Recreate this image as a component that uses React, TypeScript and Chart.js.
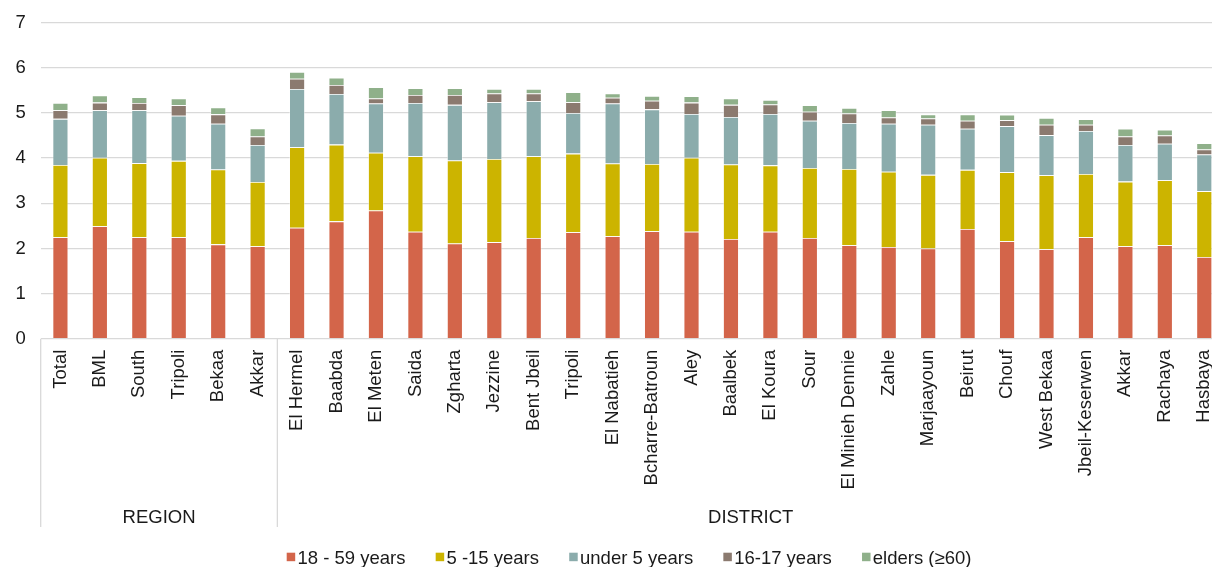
import React, { useEffect, useRef } from "react";
import { Chart, registerables } from "chart.js";

Chart.register(...registerables);

const categories = [
  "Total", "BML", "South", "Tripoli", "Bekaa", "Akkar",
  "El Hermel", "Baabda", "El Meten", "Saida", "Zgharta", "Jezzine",
  "Bent Jbeil", "Tripoli", "El Nabatieh", "Bcharre-Batroun", "Aley", "Baalbek",
  "El Koura", "Sour", "El Minieh Dennie", "Zahle", "Marjaayoun", "Beirut",
  "Chouf", "West Bekaa", "Jbeil-Keserwen", "Akkar", "Rachaya", "Hasbaya",
];

const groupLabels = ["REGION", "DISTRICT"];
const groupSizes = [6, 24];

const seriesNames = ["18 - 59 years", "5 -15 years", "under 5 years", "16-17 years", "elders (≥60)"];

const adults = [
  2.25, 2.49, 2.25, 2.25, 2.09, 2.05,
  2.46, 2.60, 2.84, 2.37, 2.11, 2.14, 2.23, 2.36, 2.27, 2.38, 2.37, 2.21,
  2.37, 2.23, 2.07, 2.03, 2.00, 2.43, 2.16, 1.98, 2.25, 2.05, 2.07, 1.81,
];
const children = [
  1.60, 1.52, 1.64, 1.69, 1.66, 1.42,
  1.78, 1.70, 1.28, 1.67, 1.84, 1.84, 1.81, 1.74, 1.61, 1.49, 1.64, 1.65,
  1.47, 1.55, 1.69, 1.67, 1.63, 1.31, 1.53, 1.64, 1.40, 1.43, 1.44, 1.46,
];
const under5 = [
  1.02, 1.05, 1.17, 1.00, 1.01, 0.82,
  1.29, 1.12, 1.09, 1.18, 1.23, 1.26, 1.22, 0.90, 1.33, 1.21, 0.97, 1.05,
  1.14, 1.05, 1.02, 1.06, 1.11, 0.91, 1.02, 0.89, 0.95, 0.81, 0.81, 0.81,
];
const teens = [
  0.19, 0.17, 0.16, 0.23, 0.21, 0.19,
  0.23, 0.20, 0.11, 0.18, 0.22, 0.19, 0.17, 0.24, 0.13, 0.19, 0.25, 0.27,
  0.21, 0.20, 0.21, 0.14, 0.14, 0.18, 0.13, 0.23, 0.14, 0.19, 0.18, 0.11,
];
const elders = [
  0.16, 0.16, 0.13, 0.15, 0.15, 0.18,
  0.15, 0.16, 0.25, 0.15, 0.15, 0.10, 0.10, 0.22, 0.09, 0.11, 0.14, 0.14,
  0.10, 0.14, 0.12, 0.16, 0.09, 0.14, 0.12, 0.15, 0.12, 0.17, 0.13, 0.14,
];

const seriesValues = [adults, children, under5, teens, elders];
const seriesColors = ["#D3654A", "#CCB400", "#8BACAC", "#8B7A6F", "#8FB08A"];

const FONT = '"Liberation Sans", Arial, Helvetica, sans-serif';
const TEXT = "#1a1a1a";
const GRID = "#d9d9d9";

const groupsAndLegend = {
  id: "groupsAndLegend",
  afterDraw(chart: any) {
    const { ctx, chartArea } = chart;
    const x = chart.scales.x;
    const half = (x.getPixelForTick(1) - x.getPixelForTick(0)) / 2;
    ctx.save();
    ctx.strokeStyle = GRID;
    ctx.lineWidth = 1.3;
    const bottomY = 527;
    let idx = 0;
    const edges: number[] = [x.getPixelForTick(0) - half];
    groupSizes.forEach((n) => {
      idx += n;
      edges.push(x.getPixelForTick(idx - 1) + half);
    });
    edges.forEach((ex) => {
      ctx.beginPath();
      ctx.moveTo(ex, chartArea.bottom);
      ctx.lineTo(ex, bottomY);
      ctx.stroke();
    });
    ctx.font = `18.5px ${FONT}`;
    ctx.fillStyle = TEXT;
    ctx.textAlign = "center";
    ctx.textBaseline = "alphabetic";
    groupLabels.forEach((g, i) => {
      ctx.fillText(g, (edges[i] + edges[i + 1]) / 2, 522.7);
    });
    ctx.textAlign = "left";
    let lx = 286.7;
    chart.data.datasets.forEach((ds: any) => {
      ctx.fillStyle = ds.backgroundColor;
      ctx.fillRect(lx, 552.7, 8.5, 8.5);
      ctx.fillStyle = TEXT;
      ctx.fillText(ds.label, lx + 10.8, 564.3);
      lx += 10.8 + ctx.measureText(ds.label).width + 30.2;
    });
    ctx.restore();
  },
};

export default function App() {
  const ref = useRef<HTMLCanvasElement | null>(null);
  useEffect(() => {
    if (!ref.current) return;
    const chart = new Chart(ref.current, {
      type: "bar",
      data: {
        labels: categories,
        datasets: seriesNames.map((name, i) => ({
          label: name,
          data: seriesValues[i],
          backgroundColor: seriesColors[i],
          borderColor: "rgba(255,255,255,0.55)",
          borderWidth: 0.8,
          borderSkipped: "start",
          barPercentage: 0.4,
          categoryPercentage: 1,
        })),
      },
      options: {
        responsive: false,
        animation: false,
        layout: { padding: { top: 22.7, right: 0, bottom: 0, left: 0 } },
        plugins: {
          legend: { display: false },
          tooltip: { enabled: false },
        },
        scales: {
          x: {
            stacked: true,
            grid: { display: false, drawTicks: false },
            border: { display: false },
            ticks: {
              maxRotation: 90,
              minRotation: 90,
              autoSkip: false,
              padding: 11,
              color: TEXT,
              font: { family: FONT, size: 18.5 },
            },
            afterFit: (axis: any) => {
              axis.height = 567 - 338.7;
              axis.paddingLeft = 0;
              axis.paddingRight = 0;
            },
          },
          y: {
            stacked: true,
            min: 0,
            max: 7,
            ticks: {
              stepSize: 1,
              padding: 15,
              color: TEXT,
              font: { family: FONT, size: 18.5 },
            },
            grid: { color: GRID, lineWidth: 1.3, drawTicks: false },
            border: { display: false },
            afterFit: (axis: any) => {
              axis.width = 40.7;
              axis.paddingTop = 0;
              axis.paddingBottom = 0;
            },
          },
        },
      },
      plugins: [groupsAndLegend],
    });
    return () => chart.destroy();
  }, []);

  return (
    <div
      style={{
        position: "fixed",
        left: 0,
        top: 0,
        width: 1212,
        height: 567,
        overflow: "hidden",
        background: "#fff",
      }}
    >
      <canvas ref={ref} width={1224} height={567} style={{ display: "block" }} />
    </div>
  );
}
